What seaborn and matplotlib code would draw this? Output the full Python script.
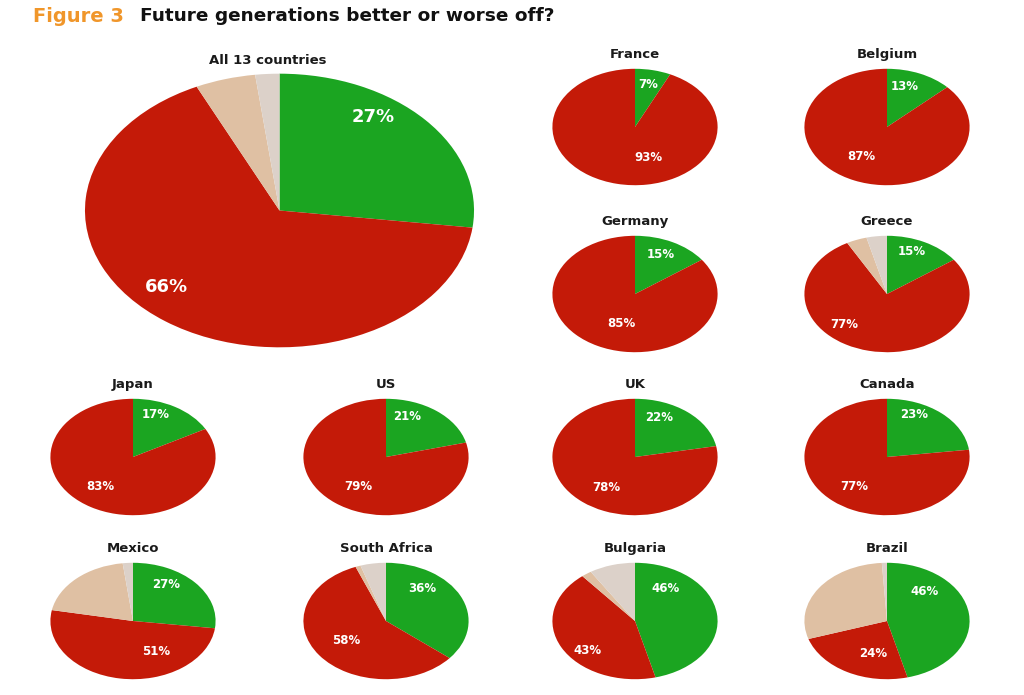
import matplotlib
matplotlib.use("Agg")
import matplotlib.pyplot as plt
import seaborn as sns

sns.set_theme(style="white")
plt.rcParams['font.family'] = ['DejaVu Sans']

# Data (% of respondents): better off, worse off, same, don't know
countries = ["All 13 countries", "France", "Belgium", "Germany", "Greece",
             "Japan", "US", "UK", "Canada",
             "Mexico", "South Africa", "Bulgaria", "Brazil"]
better = [27, 7, 13, 15, 15, 17, 21, 22, 23, 27, 36, 46, 46]
worse = [66, 93, 87, 85, 77, 83, 79, 78, 77, 51, 58, 43, 24]
same = [5, 0, 0, 0, 4, 0, 0, 0, 0, 20, 1, 2, 29]
dont_know = [2, 0, 0, 0, 4, 0, 0, 0, 0, 2, 5, 9, 1]

colors = ["#1ba521", "#c41a08", "#dfc0a3", "#dcd1c9"]

# label placement inside each pie (unit-radius coordinates)
label_pos_better = [(0.48, 0.68), (0.16, 0.73), (0.21, 0.69), (0.31, 0.67), (0.30, 0.73),
                    (0.28, 0.73), (0.25, 0.70), (0.29, 0.68), (0.33, 0.73),
                    (0.40, 0.63), (0.44, 0.55), (0.37, 0.55), (0.46, 0.51)]
label_pos_worse = [(-0.58, -0.56), (0.16, -0.52), (-0.31, -0.50), (-0.17, -0.51), (-0.52, -0.52),
                   (-0.39, -0.50), (-0.34, -0.51), (-0.35, -0.53), (-0.40, -0.51),
                   (0.28, -0.53), (-0.48, -0.34), (-0.58, -0.51), (-0.17, -0.55)]

W, H = 1024, 695
fig = plt.figure(figsize=(W / 100, H / 100), dpi=100)

# layout (pixel centres & radii)
cols = [133, 386, 635, 887]
rows = [127, 294, 457, 621]
layout = [(279.5, 210.5, 195.5, 137.5)]
layout += [(cols[2], rows[0], 83, 58.5), (cols[3], rows[0], 83, 58.5),
           (cols[2], rows[1], 83, 58.5), (cols[3], rows[1], 83, 58.5)]
for r in rows[2:]:
    for c in cols:
        layout.append((c, r, 83, 58.5))

for i, name in enumerate(countries):
    cx, cy, rx, ry = layout[i]
    ax = fig.add_axes([(cx - rx) / W, (H - (cy + ry)) / H, 2 * rx / W, 2 * ry / H])
    vals = [better[i], worse[i], same[i], dont_know[i]]
    big = i == 0

    wedges, texts, autotexts = ax.pie(
        vals, colors=colors, startangle=90, counterclock=False,
        autopct=lambda p: f"{round(p)}%", pctdistance=0.72,
        wedgeprops=dict(linewidth=0),
        textprops=dict(color="white", fontweight="bold",
                       fontsize=13 if big else 8.5))
    autotexts[0].set_position(label_pos_better[i])
    autotexts[1].set_position(label_pos_worse[i])
    for t in autotexts[2:]:
        t.set_visible(False)
    ax.set_aspect("auto")
    ax.set_xlim(-1.005, 1.005)
    ax.set_ylim(-1.005, 1.005)
    ax.axis("off")
    ty = cy - ry - 14 if not big else 61
    tx = cx if not big else 268
    fig.text(tx / W, 1 - ty / H, name, ha="center", va="center",
             fontsize=9.5, fontweight="bold", color="#1a1a1a")

fig.text(33 / W, 1 - 16 / H, "Figure 3", ha="left", va="center",
         fontsize=14, fontweight="bold", color="#f0962a")
fig.text(140 / W, 1 - 16 / H, "Future generations better or worse off?",
         ha="left", va="center", fontsize=13.3, fontweight="bold", color="#111111")

fig.savefig("out.png", dpi=100, facecolor="white")
